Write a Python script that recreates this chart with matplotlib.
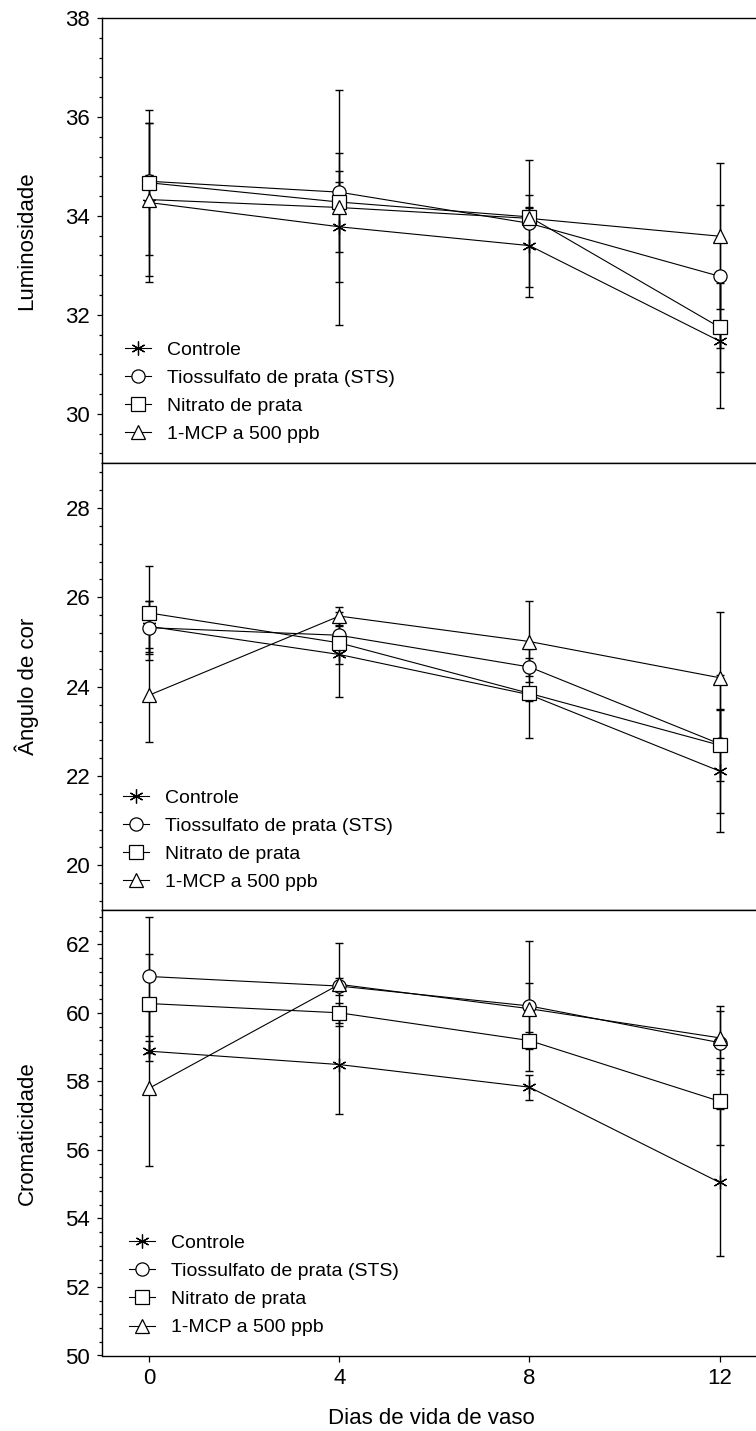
import matplotlib.pyplot as plt
from matplotlib.lines import Line2D
from matplotlib.ticker import MultipleLocator, AutoMinorLocator

plt.rcParams['font.family'] = ['Liberation Sans', 'DejaVu Sans']

days = [0, 4, 8, 12]
series = ['Controle', 'Tiossulfato de prata (STS)', 'Nitrato de prata', '1-MCP a 500 ppb']

# rows follow the order of `series`
lum_mean = [[34.27, 33.78, 33.40, 31.47],
            [34.70, 34.48, 33.85, 32.78],
            [34.67, 34.28, 33.98, 31.75],
            [34.33, 34.17, 33.95, 33.59]]
lum_sd = [[1.60, 1.12, 1.03, 1.36],
          [0.12, 0.20, 1.28, 1.45],
          [1.47, 1.00, 0.20, 0.90],
          [1.55, 2.38, 0.20, 1.47]]

ang_mean = [[25.35, 24.72, 23.82, 22.11],
            [25.32, 25.15, 24.44, 22.72],
            [25.65, 24.98, 23.85, 22.69],
            [23.81, 25.58, 25.01, 24.20]]
ang_sd = [[0.57, 0.95, 0.15, 1.36],
          [0.60, 0.20, 0.20, 1.54],
          [1.06, 0.48, 0.99, 0.80],
          [1.06, 0.20, 0.91, 1.47]]

cro_mean = [[58.88, 58.49, 57.83, 55.05],
            [61.06, 60.78, 60.20, 59.13],
            [60.27, 60.00, 59.19, 57.42],
            [57.80, 60.83, 60.12, 59.27]]
cro_sd = [[0.30, 1.43, 0.36, 2.14],
          [1.74, 0.25, 1.90, 0.92],
          [1.44, 0.30, 0.25, 1.27],
          [2.26, 1.22, 0.76, 0.93]]

markers = [(6, 2, 0), 'o', 's', '^']
msizes = [10, 9.5, 9.5, 10.5]

panels = [
    ('Luminosidade', lum_mean, lum_sd, (29, 38), (0.035, 0.045)),
    ('Ângulo de cor', ang_mean, ang_sd, (19, 29), (0.032, 0.042)),
    ('Cromaticidade', cro_mean, cro_sd, (50, 63), (0.041, 0.043)),
]

W, H = 756, 1431
fig = plt.figure(figsize=(W / 100, H / 100), dpi=100)

left = 101.7 / W
width = 665.4 / W
tops = [18, 463.3, 910]
bots = [463.3, 910, 1355.5]

for i, (ylab, means, sds, ylim, leg_pos) in enumerate(panels):
    ax = fig.add_axes([left, 1 - bots[i] / H, width, (bots[i] - tops[i]) / H])
    ax.set_xlim(-1, 13)
    ax.set_ylim(*ylim)

    for k in range(len(series)):
        ax.errorbar(days, means[k], yerr=sds[k], fmt='none', ecolor='black',
                    elinewidth=1.0, capsize=3, capthick=1.0, zorder=2)
        ax.plot(days, means[k], color='black', lw=0.8, zorder=3)
    for k in range(len(series)):
        ax.plot(days, means[k], ls='none', marker=markers[k], ms=msizes[k],
                mfc='white', mec='black', mew=0.9, zorder=4)

    ax.xaxis.set_major_locator(MultipleLocator(4))
    ax.yaxis.set_major_locator(MultipleLocator(2))
    ax.yaxis.set_minor_locator(AutoMinorLocator(5))
    ax.tick_params(axis='y', which='major', direction='out', length=3.8, width=0.9,
                   labelsize=16, pad=4.5)
    ax.tick_params(axis='y', which='minor', direction='out', length=2.0, width=0.9)
    ax.tick_params(axis='x', direction='out', length=4.3, width=0.9, labelsize=16, pad=5)
    ax.spines['right'].set_visible(False)
    for s in ['left', 'top', 'bottom']:
        ax.spines[s].set_linewidth(1.0)
    if i < 2:
        ax.tick_params(axis='x', labelbottom=False)

    handles = [Line2D([], [], color='black', lw=0.8, marker=markers[k], ms=msizes[k],
                      mfc='white', mec='black', mew=0.9) for k in range(len(series))]
    ax.legend(handles, series, loc='lower left', bbox_to_anchor=leg_pos,
              frameon=False, fontsize=14, borderpad=0, borderaxespad=0,
              handlelength=1.35, handletextpad=0.8, labelspacing=0.54, numpoints=1)

    fig.text(27 / W, 1 - (tops[i] + bots[i]) / 2 / H, ylab, rotation=90,
             ha='center', va='center', fontsize=16)

fig.text(431.5 / W, 1 - 1418 / H, 'Dias de vida de vaso', ha='center', va='center',
         fontsize=16)

fig.savefig('out.png', dpi=100)
